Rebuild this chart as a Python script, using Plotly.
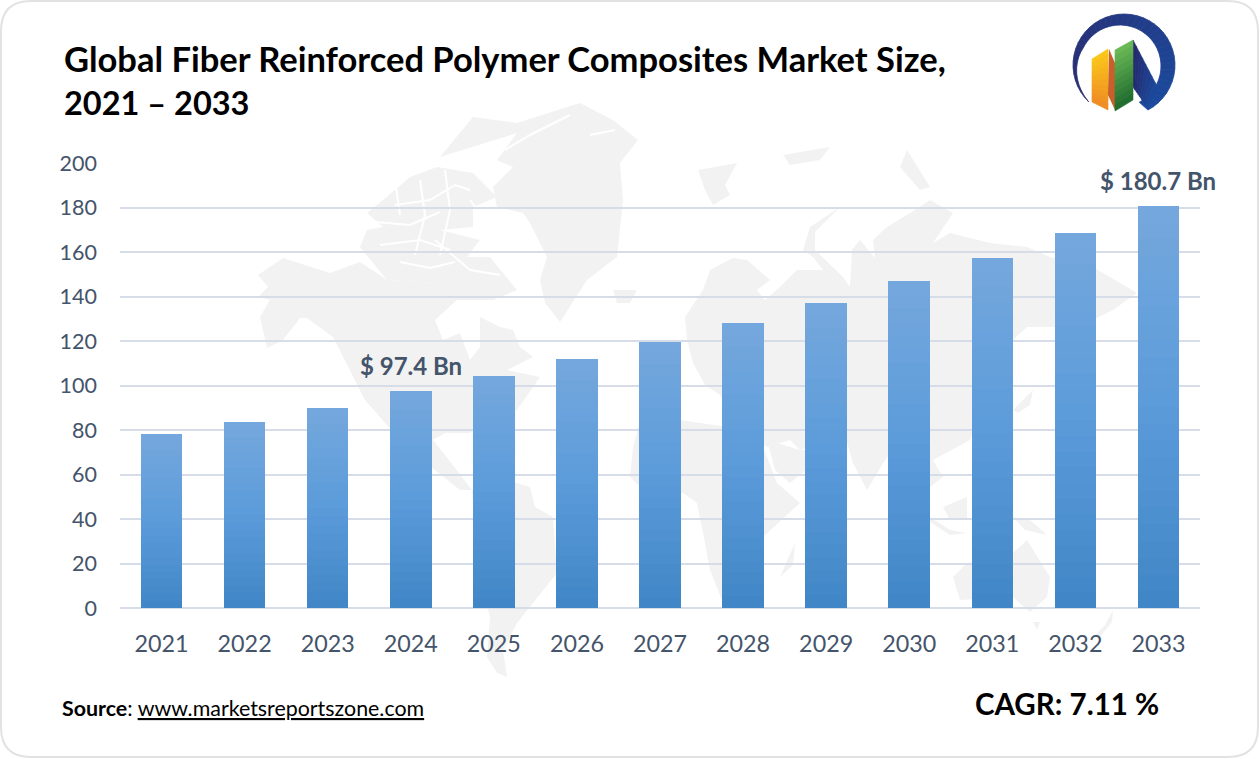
import math

import plotly.graph_objects as go

years = ["2021", "2022", "2023", "2024", "2025", "2026", "2027", "2028", "2029", "2030", "2031", "2032", "2033"]
market_size = [78.2, 83.8, 90.0, 97.4, 104.3, 111.7, 119.6, 128.0, 137.2, 147.0, 157.3, 168.7, 180.7]
labelled_years = ["2024", "2033"]
y_ticks = [0, 20, 40, 60, 80, 100, 120, 140, 160, 180, 200]

FONT = "Lato"
SLATE = "#44546A"
MAP_GRAY = "#F2F2F2"

# plot area in page pixels
LEFT, RIGHT, TOP, BOTTOM = 120, 1200, 163, 608
N_BANDS = 24


def mix(c1, c2, t):
    a = [int(c1[i:i + 2], 16) for i in (1, 3, 5)]
    b = [int(c2[i:i + 2], 16) for i in (1, 3, 5)]
    return "rgb(%d,%d,%d)" % tuple(round(p + (q - p) * t) for p, q in zip(a, b))


def px(x, y):
    return (x - LEFT) / (RIGHT - LEFT), (BOTTOM - y) / (BOTTOM - TOP)


def poly(points, color, layer="below", edge=0):
    parts = []
    for i, (x, y) in enumerate(points):
        u, v = px(x, y)
        parts.append(("M" if i == 0 else "L") + "%.5f,%.5f" % (u, v))
    return dict(type="path", xref="paper", yref="paper", path=" ".join(parts) + " Z",
                fillcolor=color, line=dict(width=edge, color=color), layer=layer)


def crack(points):
    s = poly(points, "rgba(0,0,0,0)")
    s["path"] = s["path"].replace(" Z", "")
    s["line"] = dict(width=2, color="white")
    return s


def bands(quad, c1, c2, n=10):
    # quad is a, b, c, d: colour runs from edge a-b to edge d-c
    (a, b, c, d) = quad
    out = []
    for i in range(n):
        t0, t1 = i / n, min(1, (i + 1) / n + 0.01)
        lerp = lambda p, q, t: (p[0] + (q[0] - p[0]) * t, p[1] + (q[1] - p[1]) * t)
        out.append(poly([lerp(a, d, t0), lerp(b, c, t0), lerp(b, c, t1), lerp(a, d, t1)],
                        mix(c1, c2, (i + 0.5) / n), layer="above", edge=0.6))
    return out


# faint world map behind the chart
land = [
    # Greenland and Ellesmere
    [(440, 157), (473, 117), (517, 123), (580, 103), (613, 120), (638, 140), (620, 163), (623, 200), (617, 257),
     (587, 280), (560, 322), (545, 303), (540, 280), (547, 257), (530, 223), (523, 213), (497, 207), (493, 187),
     (513, 167), (497, 160), (517, 133)],
    # Canadian arctic
    [(360, 247), (367, 230), (383, 227), (367, 213), (383, 200), (410, 177), (437, 167), (473, 173), (497, 197),
     (473, 207), (473, 227), (440, 230), (480, 240), (467, 257), (490, 257), (517, 290), (433, 283), (387, 280)],
    # North and Central America
    [(258, 275), (283, 258), (330, 273), (360, 262), (387, 280), (433, 283), (457, 273), (470, 263), (487, 273),
     (517, 290), (493, 300), (457, 300), (435, 320), (443, 340), (460, 333), (470, 360), (480, 347), (480, 317),
     (500, 327), (513, 330), (520, 347), (533, 357), (507, 370), (540, 377), (517, 410), (490, 425), (475, 430),
     (470, 433), (445, 433), (433, 440), (445, 455), (472, 490), (460, 490), (431, 467), (400, 440), (365, 400),
     (333, 337), (307, 318), (300, 318), (283, 340), (267, 348), (260, 317), (270, 300), (258, 297), (268, 287)],
    # South America
    [(472, 490), (517, 483), (530, 487), (535, 507), (553, 517), (557, 573), (533, 603), (517, 623), (503, 650),
     (507, 677), (497, 673), (487, 657), (490, 617), (474, 560), (474, 520)],
    # Iceland
    [(613, 290), (637, 290), (630, 303), (617, 303)],
    # Eurasia
    [(685, 317), (703, 290), (710, 270), (733, 258), (747, 260), (770, 280), (757, 290), (765, 300), (780, 287),
     (797, 270), (823, 270), (813, 257), (803, 250), (810, 227), (840, 207), (815, 232), (815, 250), (843, 277),
     (850, 287), (852, 250), (860, 240), (875, 258), (873, 240), (887, 227), (910, 213), (930, 200), (953, 213),
     (933, 243), (950, 233), (990, 243), (1027, 247), (1050, 257), (1093, 267), (1137, 293), (1113, 310),
     (1093, 320), (1053, 327), (1027, 327), (1013, 340), (1005, 360), (990, 395), (970, 440), (933, 460),
     (943, 477), (930, 487), (915, 470), (887, 457), (867, 490), (853, 463), (845, 435), (800, 450), (790, 440),
     (767, 447), (735, 425), (720, 395), (705, 385), (693, 363), (687, 340)],
    # Africa
    [(639, 425), (680, 420), (700, 423), (735, 428), (763, 447), (777, 483), (800, 503), (763, 537), (763, 603),
     (723, 603), (710, 570), (703, 533), (697, 503), (683, 493), (643, 490), (630, 477), (633, 447)],
    # Arabia
    [(767, 440), (800, 450), (830, 450), (790, 483), (775, 470)],
    # Madagascar
    [(780, 577), (795, 543), (793, 565)],
    # Australia, Tasmania, New Zealand
    [(953, 577), (967, 563), (1013, 553), (1027, 540), (1050, 577), (1047, 597), (1030, 612), (1013, 597), (960, 600)],
    [(1033, 622), (1040, 622), (1037, 630)],
    [(1093, 637), (1105, 625), (1113, 610), (1112, 622), (1100, 637)],
    # Indonesia, Borneo, New Guinea
    [(930, 517), (950, 530), (967, 533), (950, 535), (930, 522)],
    [(943, 507), (967, 497), (967, 520), (950, 520)],
    [(1013, 517), (1030, 520), (1047, 535), (1025, 530)],
    # Japan
    [(1013, 410), (1033, 390), (1030, 405), (1018, 413)],
    # Svalbard, Franz Josef, Novaya Zemlya
    [(698, 170), (737, 163), (725, 185), (730, 195), (713, 205), (705, 190)],
    [(783, 155), (830, 147), (820, 160), (790, 165)],
    [(907, 150), (930, 187), (920, 190), (900, 167)],
]
cracks = [
    [(375, 222), (410, 225), (440, 212)],
    [(395, 205), (430, 200), (455, 185), (470, 190)],
    [(380, 245), (420, 240), (450, 250)],
    [(420, 180), (425, 215), (415, 255)],
    [(445, 170), (450, 210), (440, 255)],
    [(505, 150), (530, 135), (570, 115)],
    [(590, 135), (615, 130)],
    [(460, 165), (505, 140)],
    [(400, 262), (430, 268), (455, 262)],
    [(470, 200), (490, 225), (510, 245)],
    [(395, 180), (400, 215)],
    [(435, 240), (470, 270), (500, 275)],
]

shapes = [poly(p, MAP_GRAY) for p in land] + [crack(c) for c in cracks]

# card outline
x0, y0, x1, y1, r = px(1, 1)[0], px(1, 1)[1], px(1258, 757)[0], px(1258, 757)[1], 30
rx, ry = r / (RIGHT - LEFT), r / (BOTTOM - TOP)
shapes.append(dict(
    type="path", xref="paper", yref="paper", layer="below",
    path=f"M{x0 + rx},{y0} L{x1 - rx},{y0} Q{x1},{y0} {x1},{y0 - ry} L{x1},{y1 + ry} Q{x1},{y1} {x1 - rx},{y1} "
         f"L{x0 + rx},{y1} Q{x0},{y1} {x0},{y1 + ry} L{x0},{y0 - ry} Q{x0},{y0} {x0 + rx},{y0} Z",
    line=dict(color="#E2E2E2", width=2), fillcolor="rgba(0,0,0,0)",
))

# logo: crescent, then the three panels of the "N"
STEPS = 40
for i in range(STEPS):
    ring = []
    for k in (i, i + 1):
        t = k / STEPS
        ang = math.radians(134 + 288 * t)
        outer = (1124 + 51 * math.cos(ang), 65 + 51 * math.sin(ang))
        inner = (1120 + 41 * math.cos(ang), 66 + 41 * math.sin(ang))
        w = min(1, t / 0.25)
        ring.append((outer, (outer[0] + (inner[0] - outer[0]) * w, outer[1] + (inner[1] - outer[1]) * w)))
    shapes.append(poly([ring[0][0], ring[1][0], ring[1][1], ring[0][1]],
                       mix("#2A2A6E", "#1B4B9E", i / (STEPS - 1)), layer="above", edge=0.8))
shapes += bands([(1133, 40), (1133, 87), (1147, 107), (1158, 88)], "#26276B", "#1C4A9C", 8)
shapes += bands([(1092, 59), (1108, 49), (1108, 110), (1092, 102)], "#FBC919", "#EE8A25")
shapes.append(poly([(1109, 49), (1115, 63), (1115, 110), (1108, 95)], "#C9602A", layer="above"))
shapes += bands([(1115, 50), (1133, 40), (1133, 100), (1115, 111)], "#6DBB57", "#1E6A2E")


def bar_color(t):
    # bottom to top, with the middle a little more saturated than a straight fade
    if t < 0.5:
        return mix("#4187C7", "#5B9BDA", t / 0.5)
    return mix("#5B9BDA", "#74A7DD", (t - 0.5) / 0.5)


fig = go.Figure()

# each bar is a stack of thin bands so it can fade from light to dark
for band in range(N_BANDS):
    fig.add_trace(go.Bar(
        x=years,
        y=[v / N_BANDS for v in market_size],
        marker=dict(color=bar_color(band / (N_BANDS - 1)), line=dict(width=0)),
        width=0.5,
        showlegend=False,
        hoverinfo="skip",
    ))

annotations = []
for i, (year, value) in enumerate(zip(years, market_size)):
    if year in labelled_years:
        # number-like strings on a category axis get read as positions, so use the index
        annotations.append(dict(
            x=i, y=value, xref="x", yref="y", yshift=9, yanchor="bottom", showarrow=False,
            text=f"<b>$ {value} Bn</b>", font=dict(family=FONT, size=24, color=SLATE),
        ))


def page_text(x, y, text, size, anchor="left"):
    u, v = px(x, y)
    annotations.append(dict(x=u, y=v, xref="paper", yref="paper", xanchor=anchor, yanchor="middle", align="left",
                            showarrow=False, text=text, font=dict(family=FONT, size=size, color="black")))


page_text(62, 58, "<b>Global Fiber Reinforced Polymer Composites Market Size,</b>", 34.5)
page_text(62, 102, "<b>2021 – 2033</b>", 32.5)
page_text(60, 708, "<b>Source</b>: <u>www.marketsreportszone.com</u>", 21.4)
page_text(973, 703, "<b>CAGR: 7.11 %</b>", 29.5)

fig.update_layout(
    width=1260,
    height=759,
    margin=dict(l=LEFT, r=1260 - RIGHT, t=TOP, b=759 - BOTTOM),
    barmode="stack",
    paper_bgcolor="white",
    plot_bgcolor="rgba(0,0,0,0)",
    shapes=shapes,
    annotations=annotations,
    xaxis=dict(
        type="category", range=[-0.5, 12.5], showgrid=False, showline=False, zeroline=False, ticks="",
        ticklabelstandoff=20, tickfont=dict(family=FONT, size=23.3, color=SLATE),
    ),
    yaxis=dict(
        range=[0, 200], tickvals=y_ticks, showgrid=True, gridcolor="#D6DCE8", gridwidth=2,
        zeroline=True, zerolinecolor="#D6DCE8", zerolinewidth=2, showline=False, ticks="",
        ticklabelstandoff=22, tickfont=dict(family=FONT, size=21.5, color=SLATE),
    ),
)

# drop the page's default body margin so the card fills the window
fig.write_html("out.html", config={"displayModeBar": False}, post_script="document.body.style.margin = '0';")
